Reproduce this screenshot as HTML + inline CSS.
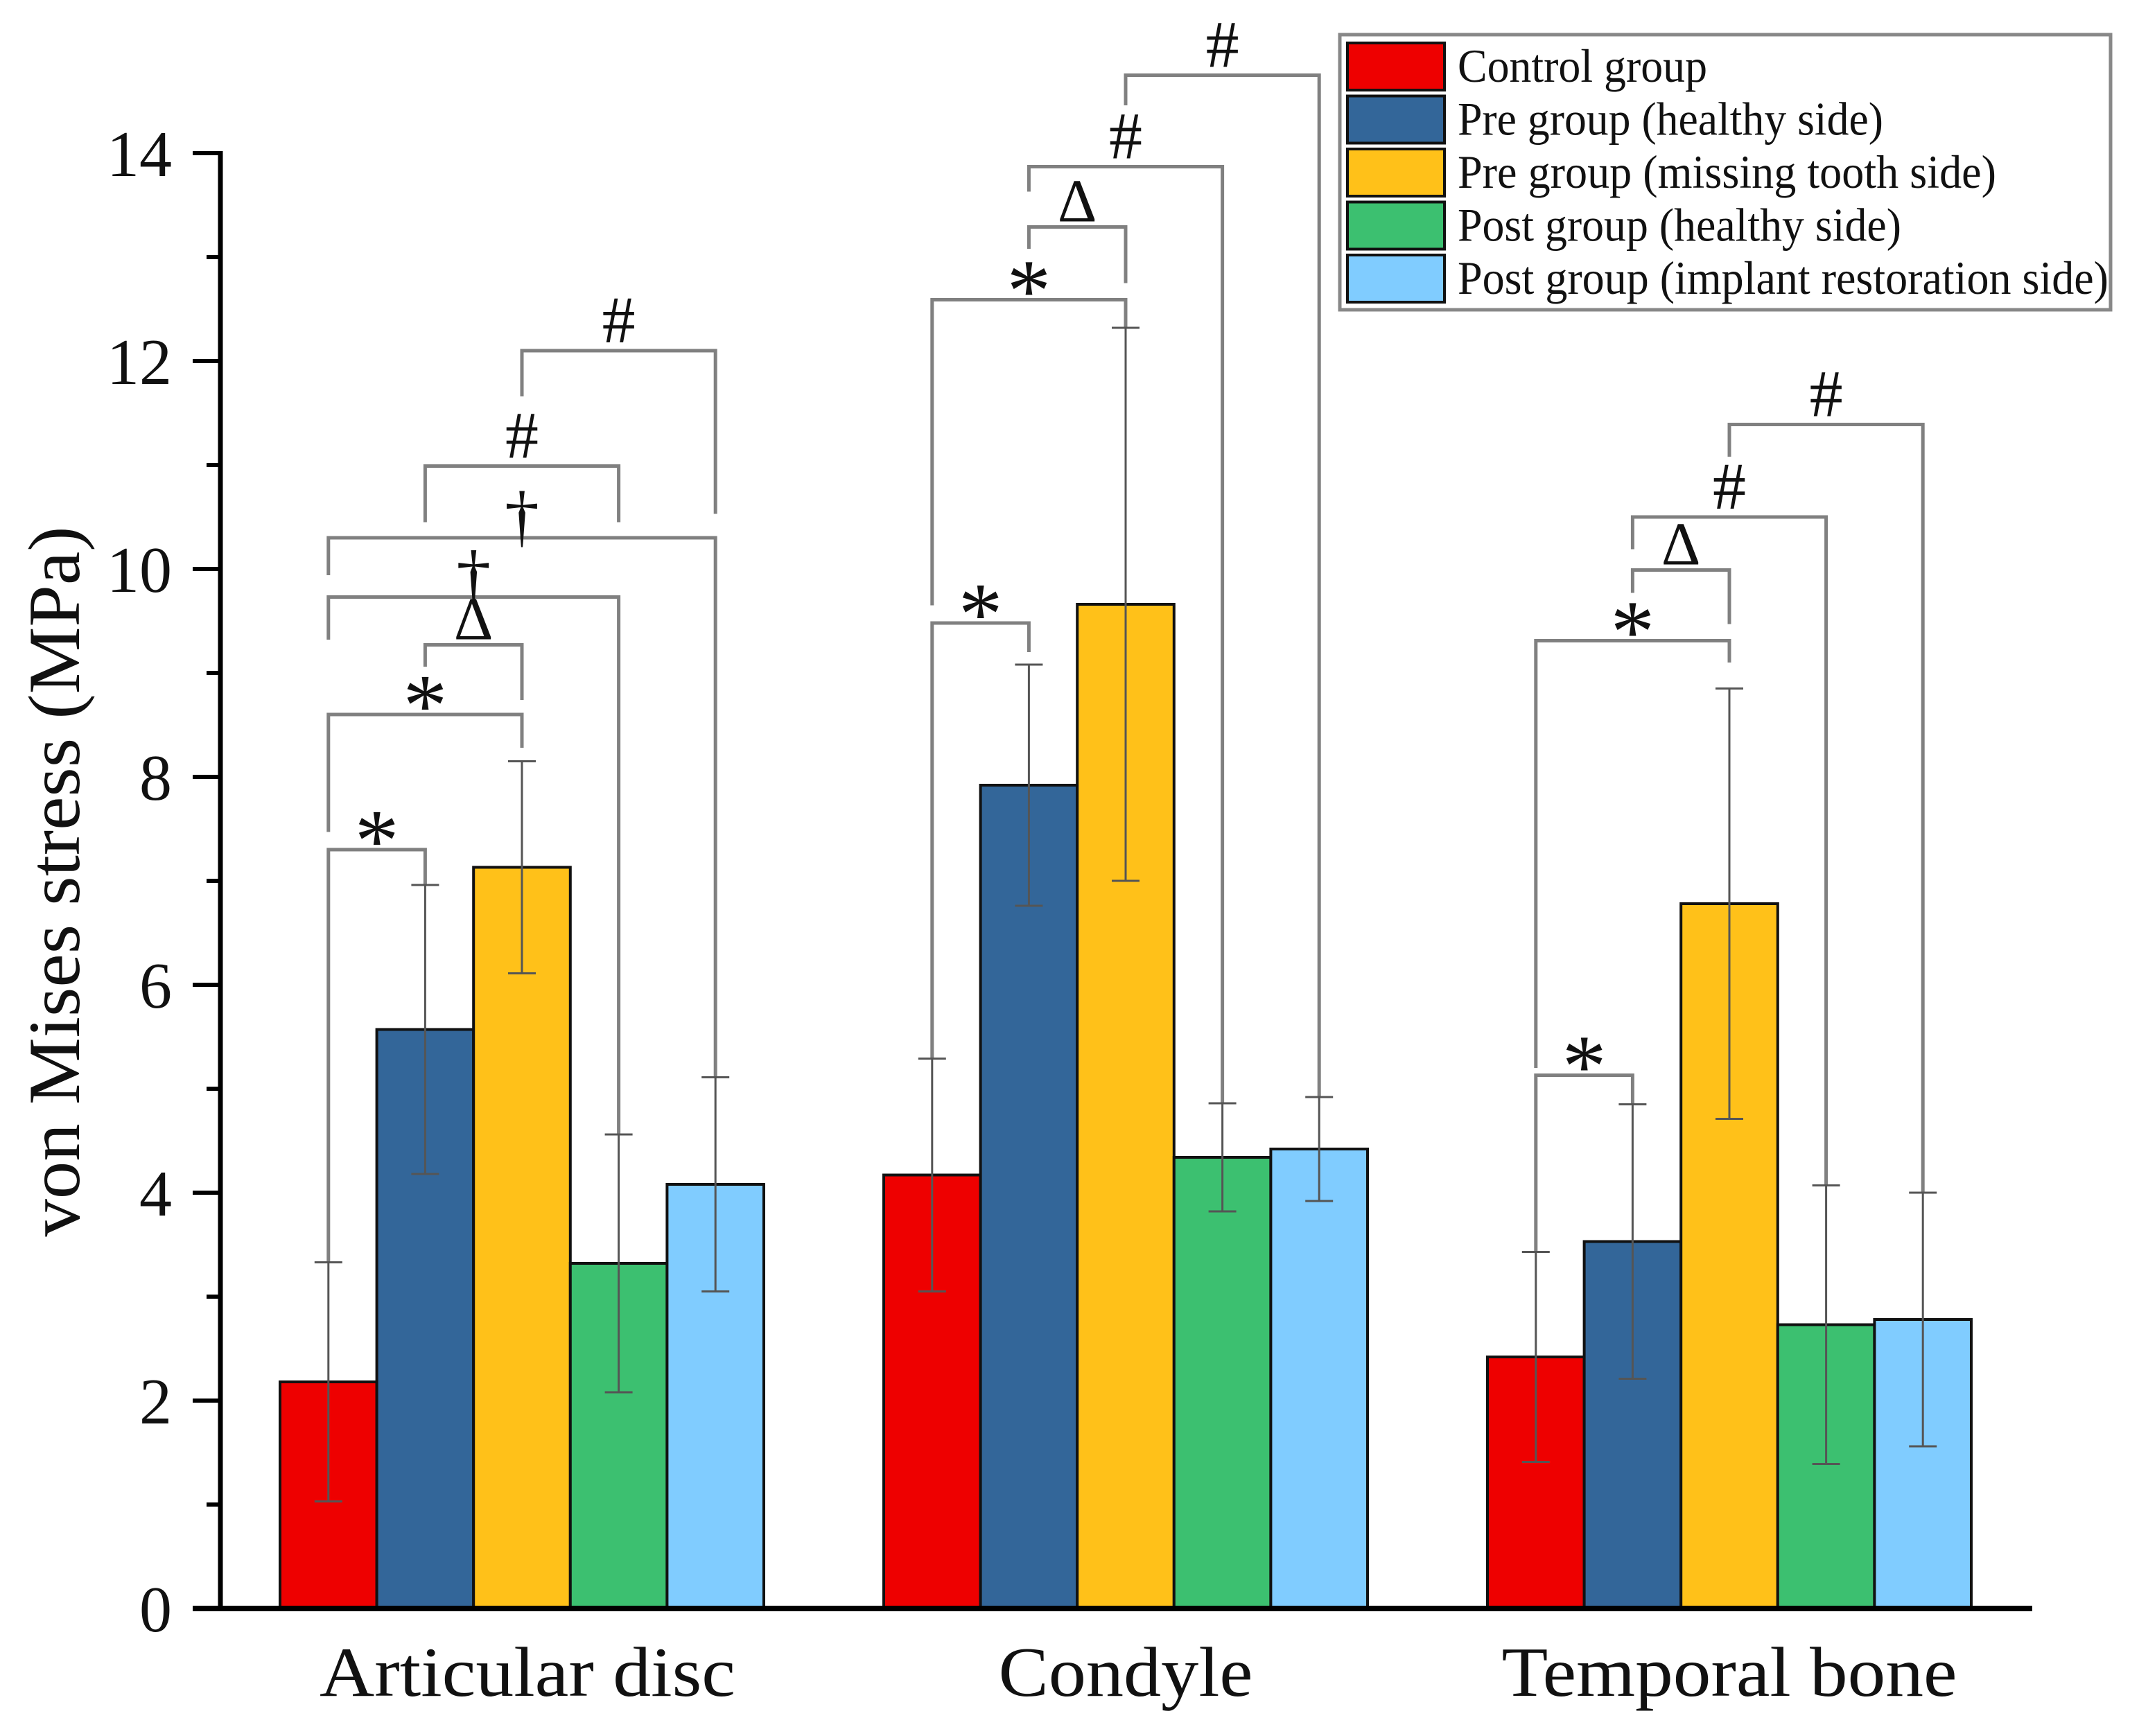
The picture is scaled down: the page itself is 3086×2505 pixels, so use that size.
<!DOCTYPE html>
<html>
<head>
<meta charset="utf-8">
<style>
  html, body { margin: 0; padding: 0; background: #ffffff; }
  svg { display: block; }
  text { font-family: "Liberation Serif", "Times New Roman", serif; fill: #111; }
</style>
</head>
<body>
<svg id="chart" xmlns="http://www.w3.org/2000/svg" width="3086" height="2505" viewBox="0 0 3086 2505">
  <rect x="0" y="0" width="3086" height="2505" fill="#ffffff"/>
  <g id="brackets"></g>
  <g id="bars"></g>
  <g id="errors"></g>
  <g id="axes"></g>
  <g id="legend"></g>
</svg>
<script>
const categories = ['Articular disc', 'Condyle', 'Temporal bone'];
const seriesNames = ['Control group', 'Pre group (healthy side)', 'Pre group (missing tooth side)', 'Post group (healthy side)', 'Post group (implant restoration side)'];
const controlMeans = [2.18, 4.17, 2.42];
const preHealthyMeans = [5.57, 7.92, 3.53];
const preMissingMeans = [7.13, 9.66, 6.78];
const postHealthyMeans = [3.32, 4.34, 2.73];
const postImplantMeans = [4.08, 4.42, 2.78];
const controlErr = [1.15, 1.12, 1.01];
const preHealthyErr = [1.39, 1.16, 1.32];
const preMissingErr = [1.02, 2.66, 2.07];
const postHealthyErr = [1.24, 0.52, 1.34];
const postImplantErr = [1.03, 0.50, 1.22];
const yTicks = [0, 2, 4, 6, 8, 10, 12, 14];
const yMinorTicks = [1, 3, 5, 7, 9, 11, 13];
// brackets: [category, barA, barB, level, legEndA, legEndB, symbol]
const bracketCats = [0,0,0,0,0,0,0, 1,1,1,1,1, 2,2,2,2,2];
const bracketA =    [0,0,1,0,0,1,2, 0,0,1,1,2, 0,0,1,1,2];
const bracketB =    [1,2,2,3,4,3,4, 1,2,2,3,4, 1,2,2,3,4];
const bracketLevel = [7.3,8.6,9.27,9.73,10.3,10.99,12.1, 9.48,12.59,13.29,13.87,14.75, 5.13,9.31,9.99,10.5,11.39];
const bracketLegA =  [3.33,7.47,9.06,9.32,9.94,10.45,11.66, 5.29,9.65,13.08,13.63,14.46, 3.43,5.2,9.77,10.19,11.08];
const bracketLegB =  [6.96,8.28,8.74,4.56,5.11,10.45,10.53, 9.2,12.33,12.75,4.86,4.92, 4.85,9.1,9.47,4.07,4.0];
const bracketSym = ['*','*','Δ','†','†','#','#', '*','*','Δ','#','#', '*','*','Δ','#','#'];

const means = [controlMeans, preHealthyMeans, preMissingMeans, postHealthyMeans, postImplantMeans];
const errs = [controlErr, preHealthyErr, preMissingErr, postHealthyErr, postImplantErr];
const colors = ['#ee0000', '#336699', '#ffc119', '#3cc070', '#80ccff'];

const NS = 'http://www.w3.org/2000/svg';
const X0 = 318, XEND = 2932, Y0 = 2321, PXU = 150;
const GROUP_START = 404, GROUP_PITCH = 871, BAR_W = 139.6;
function yScale(v) { return Y0 - v * PXU; }
function barLeft(c, s) { return GROUP_START + c * GROUP_PITCH + s * BAR_W; }
function barCenter(c, s) { return barLeft(c, s) + BAR_W / 2; }
function groupCenter(c) { return GROUP_START + c * GROUP_PITCH + BAR_W * 2.5; }
function mk(tag, attrs, parent) {
  const el = document.createElementNS(NS, tag);
  for (const k in attrs) el.setAttribute(k, attrs[k]);
  parent.appendChild(el);
  return el;
}

const gBars = document.getElementById('bars');
const gErr = document.getElementById('errors');
const gAx = document.getElementById('axes');
const gBr = document.getElementById('brackets');
const gLeg = document.getElementById('legend');

for (let s = 0; s < means.length; s++) {
  for (let c = 0; c < categories.length; c++) {
    const v = means[s][c];
    const r = mk('rect', {x: barLeft(c, s), y: yScale(v), width: BAR_W, height: yScale(0) - yScale(v), fill: colors[s], stroke: '#111', 'stroke-width': 4}, gBars);
    
    
    const cx = barCenter(c, s), e = errs[s][c];
    const ln = mk('line', {x1: cx, x2: cx, y1: yScale(v + e), y2: yScale(v - e), stroke: '#555', 'stroke-width': 3}, gErr);
    
    
    for (const t of [v + e, v - e]) {
      const cap = mk('line', {x1: cx - 20, x2: cx + 20, y1: yScale(t), y2: yScale(t), stroke: '#555', 'stroke-width': 3}, gErr);
      
      
    }
  }
}

for (let i = 0; i < bracketLevel.length; i++) {
  const c = bracketCats[i];
  const xa = barCenter(c, bracketA[i]), xb = barCenter(c, bracketB[i]);
  const y = yScale(bracketLevel[i]);
  const p = mk('path', {d: 'M' + xa + ',' + yScale(bracketLegA[i]) + ' L' + xa + ',' + y + ' L' + xb + ',' + y + ' L' + xb + ',' + yScale(bracketLegB[i]), fill: 'none', stroke: '#808080', 'stroke-width': 5}, gBr);
  
  
  const sym = bracketSym[i];
  let fs = 96, by = y - 12;
  if (sym === '*') { fs = 128; by = y + 30; }
  if (sym === '†') { fs = 100; by = y + 2; }
  if (sym === 'Δ') { fs = 88; by = y - 8; }
  const t = mk('text', {x: (xa + xb) / 2, y: by, 'font-size': fs, 'text-anchor': 'middle'}, gBr);
  t.textContent = sym;
  
  
}

const yl = mk('line', {x1: X0, x2: X0, y1: yScale(14) - 3, y2: Y0 + 4, stroke: '#000', 'stroke-width': 7}, gAx);


const xl = mk('line', {x1: 278, x2: XEND, y1: Y0, y2: Y0, stroke: '#000', 'stroke-width': 8}, gAx);


for (const v of yTicks) {
  const tk = mk('line', {x1: 278, x2: X0, y1: yScale(v), y2: yScale(v), stroke: '#000', 'stroke-width': 6}, gAx);
  
  
  const lb = mk('text', {x: 248, y: yScale(v) + 33, 'font-size': 94, 'text-anchor': 'end'}, gAx);
  lb.textContent = String(v);
  
  
}
for (const v of yMinorTicks) {
  const tk = mk('line', {x1: 298, x2: X0, y1: yScale(v), y2: yScale(v), stroke: '#000', 'stroke-width': 6}, gAx);
  
  
}
const catWidths = [600, 367, 657];
for (let c = 0; c < categories.length; c++) {
  const lb = mk('text', {x: groupCenter(c) + (c === 0 ? 8 : 0), y: 2447, 'font-size': 102, 'text-anchor': 'middle', textLength: catWidths[c], lengthAdjust: 'spacingAndGlyphs'}, gAx);
  lb.textContent = categories[c];
  
  
}
const yt = mk('text', {x: 0, y: 0, 'font-size': 106, 'text-anchor': 'middle', textLength: 1025, lengthAdjust: 'spacingAndGlyphs', transform: 'translate(114,1272) rotate(-90)'}, gAx);
yt.textContent = 'von Mises stress (MPa)';



const lbox = mk('rect', {x: 1933, y: 50, width: 1112, height: 397, fill: '#fff', stroke: '#888', 'stroke-width': 5}, gLeg);


const legWidths = [360, 614, 777, 640, 939];
for (let s = 0; s < seriesNames.length; s++) {
  const ry = 62 + s * 76.5;
  const sw = mk('rect', {x: 1944, y: ry, width: 140, height: 68, fill: colors[s], stroke: '#111', 'stroke-width': 4}, gLeg);
  
  
  const t = mk('text', {x: 2103, y: ry + 56, 'font-size': 68, textLength: legWidths[s], lengthAdjust: 'spacingAndGlyphs'}, gLeg);
  t.textContent = seriesNames[s];
  
  
}
</script>
</body>
</html>
